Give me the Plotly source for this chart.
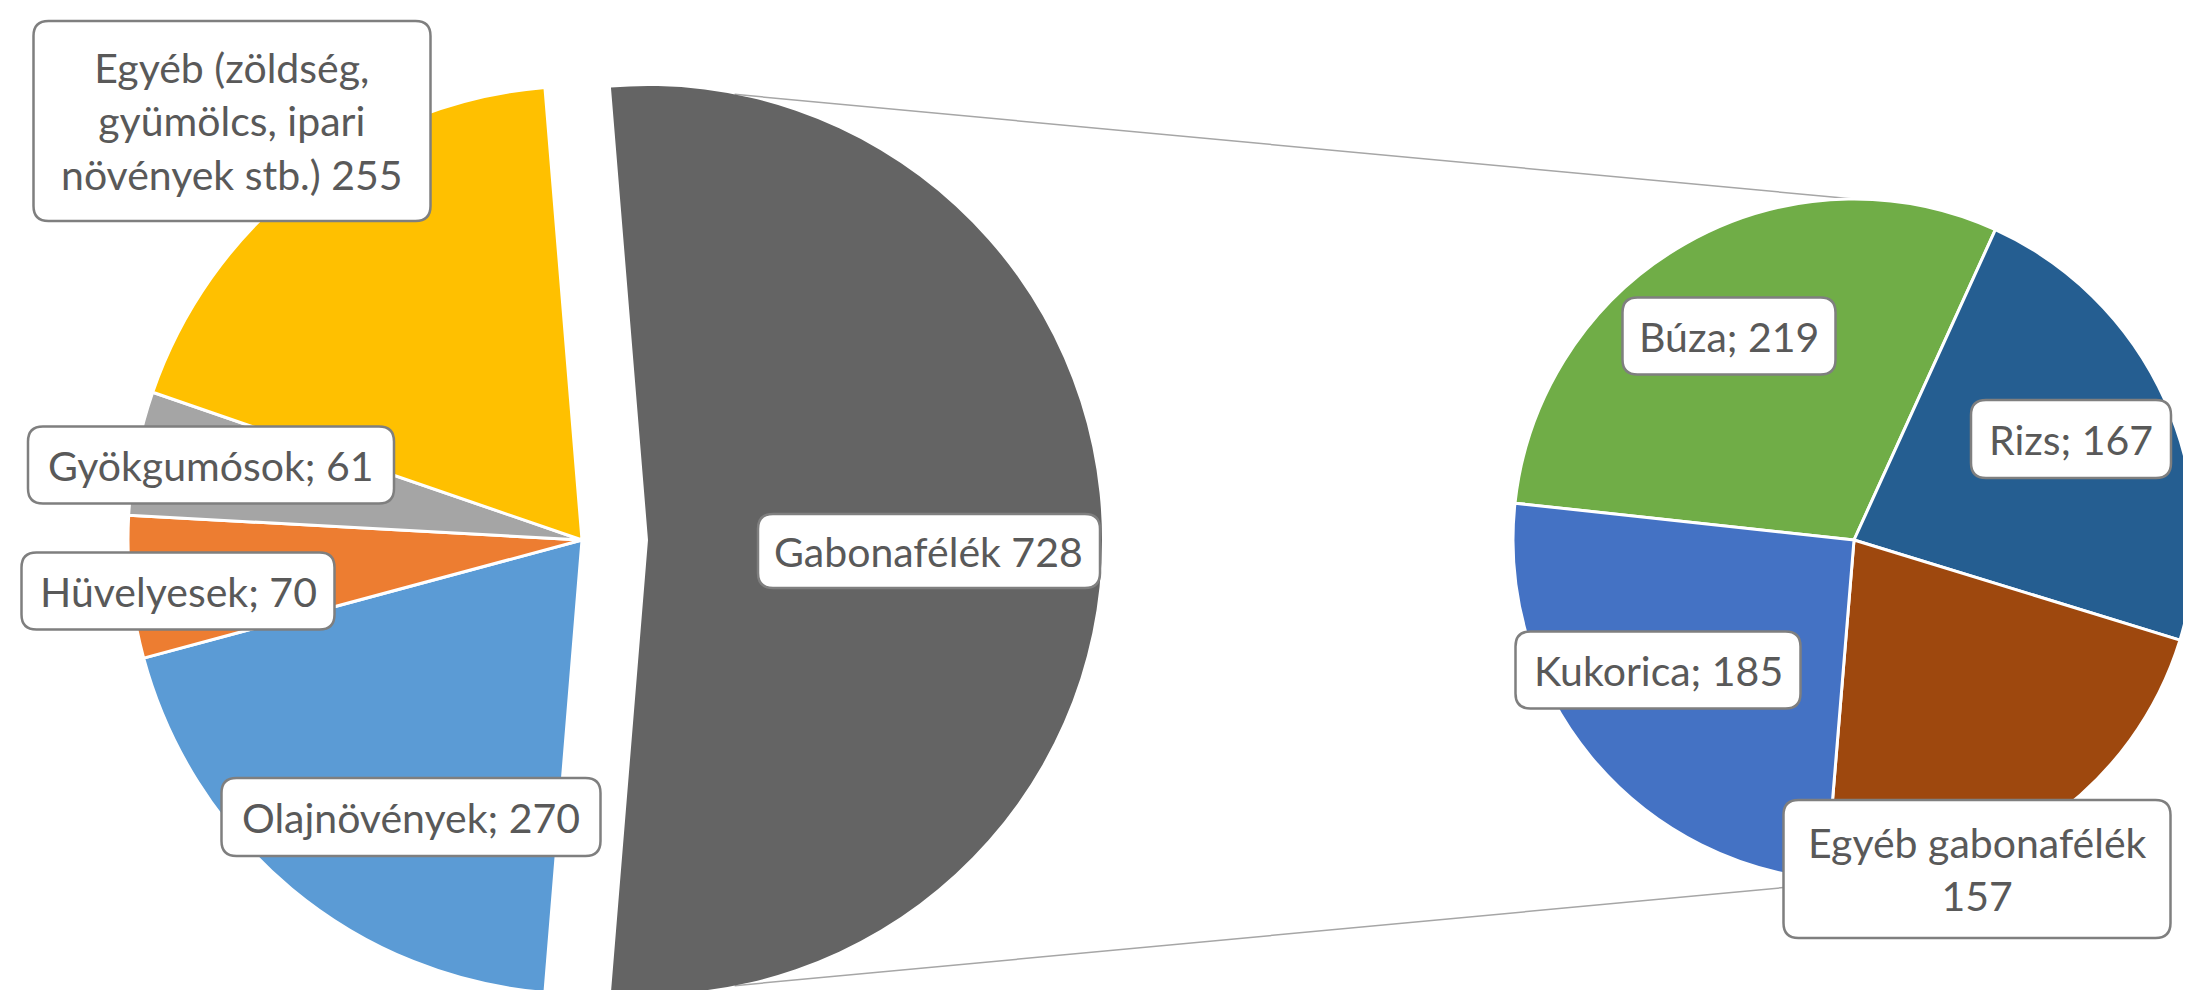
import math
import plotly.graph_objects as go

W, H = 2191, 990

# ---------------- data ----------------
main_labels = ["Gabonafélék", "Olajnövények", "Hüvelyesek", "Gyökgumósok",
               "Egyéb (zöldség, gyümölcs, ipari növények stb.)"]
main_values = [728, 270, 70, 61, 255]
main_display = ["Gabonafélék", "Olajnövények", "Hüvelyesek", "Gyökgumósok",
                "Egyéb (zöldség,<br>gyümölcs, ipari<br>növények stb.)"]
main_seps = [" ", "; ", "; ", "; ", " "]
main_colors = ["#646464", "#5B9BD5", "#ED7D31", "#A5A5A5", "#FFC000"]

sub_labels = ["Búza", "Rizs", "Egyéb gabonafélék", "Kukorica"]
sub_values = [219, 167, 157, 185]
sub_seps = ["; ", "; ", "<br>", "; "]
sub_colors = ["#70AD47", "#255E91", "#9E480E", "#4472C4"]

# ---------------- layout geometry (pixels) ----------------
L_CX, L_CY, L_R = 574, 532, 454      # primary pie
PULL_PX = 66                          # explosion of split slice
R_CX, R_CY, R_R = 1846, 532, 341      # secondary pie
SUB_ROTATION = -83.8

# label boxes: center x, center y, width, height (pixels)
main_boxes = [(921, 543, 342, 74), (403, 809, 379, 78), (170, 583, 313, 77),
              (203, 457, 366, 77), (224, 113, 397, 200)]
sub_boxes = [(1721, 328, 213, 77), (2063, 431, 200, 78), (1969, 861, 387, 138),
             (1650, 662, 285, 77)]

TEXT_COLOR = "#595959"
FONT = "Lato"
FSIZE = 41


def domain(cx, cy, r):
    return dict(x=[(cx - r) / W, (cx + r) / W], y=[1 - (cy + r) / H, 1 - (cy - r) / H])


total = sum(main_values)
frac = main_values[0] / total
main_rotation = 90 - 180 * frac

transparent = "rgba(0,0,0,0)"

# primary pie without the split slice
colors_a = [transparent] + main_colors[1:]
widths_a = [0] + [3] * (len(main_values) - 1)
# split slice only, exploded to the right
colors_b = [main_colors[0]] + [transparent] * (len(main_values) - 1)
widths_b = [0] * len(main_values)

fig = go.Figure()
fig.add_trace(go.Pie(
    labels=main_labels, values=main_values, sort=False, direction="clockwise",
    rotation=main_rotation, textinfo="none", hoverinfo="label+value",
    marker=dict(colors=colors_a, line=dict(color="white", width=widths_a)),
    domain=domain(L_CX, L_CY, L_R), showlegend=False))
fig.add_trace(go.Pie(
    labels=main_labels, values=main_values, sort=False, direction="clockwise",
    rotation=main_rotation, textinfo="none", hoverinfo="label+value",
    marker=dict(colors=colors_b, line=dict(color="white", width=widths_b)),
    domain=domain(L_CX + PULL_PX, L_CY, L_R), showlegend=False))
fig.add_trace(go.Pie(
    labels=sub_labels, values=sub_values, sort=False, direction="clockwise",
    rotation=SUB_ROTATION, textinfo="none", hoverinfo="label+value",
    marker=dict(colors=sub_colors, line=dict(color="white", width=3)),
    domain=domain(R_CX, R_CY, R_R), showlegend=False))

shapes = []
# connector lines
gx = L_CX + PULL_PX
for ang, ey in [(11, R_CY - R_R), (169, R_CY + R_R)]:
    a = math.radians(ang)
    sx = gx + L_R * math.sin(a)
    sy = L_CY - L_R * math.cos(a)
    shapes.append(dict(type="line", xref="paper", yref="paper",
                       x0=sx / W, y0=1 - sy / H, x1=R_CX / W, y1=1 - ey / H,
                       line=dict(color="#A6A6A6", width=1.5), layer="below"))


def rounded(cx, cy, w, h, rad=15):
    x0, x1 = (cx - w / 2), (cx + w / 2)
    y0, y1 = (cy - h / 2), (cy + h / 2)
    def P(x, y):
        return f"{x / W:.6f},{1 - y / H:.6f}"
    path = (f"M {P(x0 + rad, y0)} L {P(x1 - rad, y0)} Q {P(x1, y0)} {P(x1, y0 + rad)} "
            f"L {P(x1, y1 - rad)} Q {P(x1, y1)} {P(x1 - rad, y1)} "
            f"L {P(x0 + rad, y1)} Q {P(x0, y1)} {P(x0, y1 - rad)} "
            f"L {P(x0, y0 + rad)} Q {P(x0, y0)} {P(x0 + rad, y0)} Z")
    return dict(type="path", xref="paper", yref="paper", path=path,
                fillcolor="white", line=dict(color="#7F7F7F", width=2.5), layer="above")


annotations = []
for disp, sep, val, box in zip(main_display + sub_labels, main_seps + sub_seps,
                               main_values + sub_values, main_boxes + sub_boxes):
    cx, cy, w, h = box
    shapes.append(rounded(cx, cy, w, h))
    annotations.append(dict(text=f"{disp}{sep}{val}", x=cx / W, y=1 - cy / H,
                            xref="paper", yref="paper", showarrow=False,
                            xanchor="center", yanchor="middle", align="center",
                            font=dict(family=FONT, size=FSIZE, color=TEXT_COLOR)))

fig.update_layout(width=W, height=H, margin=dict(l=0, r=0, t=0, b=0),
                  paper_bgcolor="white", plot_bgcolor="white",
                  shapes=shapes, annotations=annotations)

fig.write_html("out.html")
